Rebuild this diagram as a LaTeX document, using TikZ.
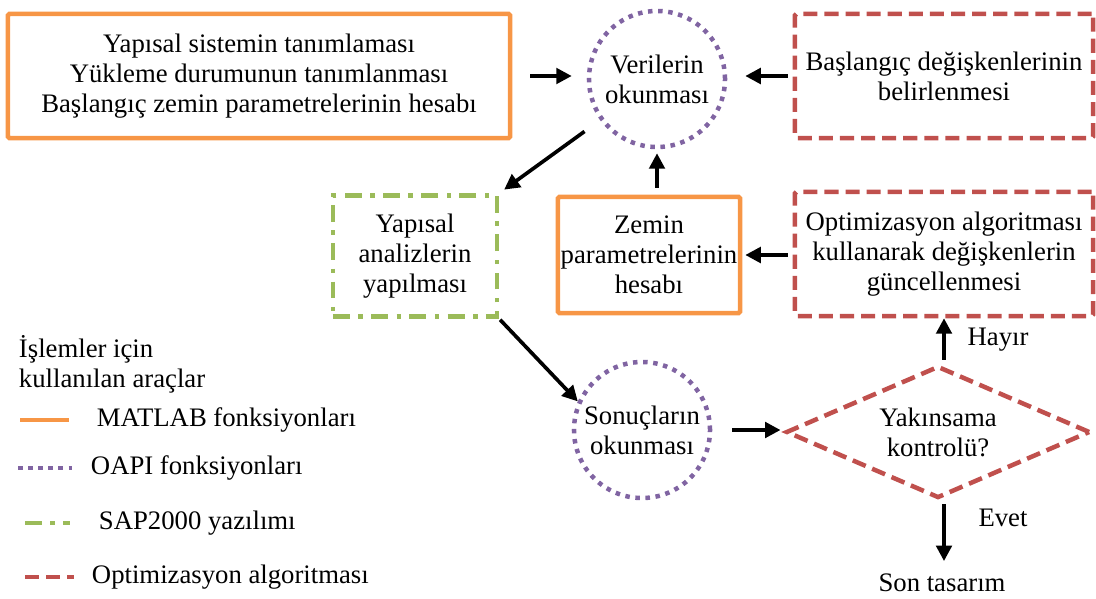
\documentclass[tikz,border=0pt]{standalone}
\usepackage{fontspec}
\setmainfont{Liberation Serif}
\usetikzlibrary{arrows.meta,shapes.geometric}

\definecolor{matlabclr}{HTML}{F79646}
\definecolor{oapiclr}{HTML}{8064A2}
\definecolor{sapclr}{HTML}{9BBB59}
\definecolor{optclr}{HTML}{C0504D}

\begin{document}
\begin{tikzpicture}[x=0.025cm, y=-0.025cm,
    font=\fontsize{19}{21.4}\selectfont,
    matline/.style={draw=matlabclr, line width=3.2pt},
    oapiline/.style={draw=oapiclr, line width=3.2pt, dash pattern=on 3.2pt off 4pt},
    sapline/.style={draw=sapclr, line width=3.2pt, dash pattern=on 12pt off 6pt on 3.2pt off 6pt},
    optline/.style={draw=optclr, line width=3.2pt, dash pattern=on 10pt off 5pt},
    matbox/.style={matline, rounded corners=1pt, align=center, inner sep=0pt},
    sapbox/.style={sapline, align=center, inner sep=0pt},
    optbox/.style={optline, rounded corners=1pt, align=center, inner sep=0pt},
    oapicirc/.style={oapiline, circle, minimum size=3.4cm, inner sep=0pt, align=center},
    flow/.style={-{Triangle[length=11pt,width=11pt]}, line width=2.6pt},
]
    \useasboundingbox (0,0) rectangle (1096,598);

    % main flow
    \node[matbox, minimum width=12.55cm, minimum height=3.1cm] (init) at (259,76)
        {Yapısal sistemin tanımlaması\\Yükleme durumunun tanımlanması\\Başlangıç zemin parametrelerinin hesabı};
    \node[oapicirc] (read) at (657,79) {Verilerin\\okunması};
    \node[optbox, minimum width=7.45cm, minimum height=3.1cm] (vars) at (944,76)
        {Başlangıç değişkenlerinin\\belirlenmesi};
    \node[sapbox, minimum width=4.1cm, minimum height=3.03cm] (anal) at (415,256)
        {Yapısal\\analizlerin\\yapılması};
    \node[matbox, minimum width=4.55cm, minimum height=2.9cm] (soil) at (649,255)
        {Zemin\\parametrelerinin\\hesabı};
    \node[optbox, minimum width=7.45cm, minimum height=3.1cm] (upd) at (944,254)
        {Optimizasyon algoritması\\kullanarak değişkenlerin\\güncellenmesi};
    \node[oapicirc] (res) at (642,430) {Sonuçların\\okunması};
    \node[optline, diamond, aspect=2.3, inner sep=0pt, align=center,
          minimum width=7.6cm, minimum height=3.3cm] (conv) at (938,432) {Yakınsama\\kontrolü?};
    \node (final) at (942,583) {Son tasarım};
    \node (no) at (998,340) {Hayır};
    \node (yes) at (1003,518) {Evet};

    \draw[flow, shorten <=0.45cm, shorten >=0.375cm] (init.east) -- (init.east -| read.west);
    \draw[flow, shorten <=0.125cm, shorten >=0.45cm] (vars.west) -- (vars.west -| read.east);
    \draw[flow, shorten <=0.48cm, shorten >=0.15cm] (read) -- (anal.north east);
    \draw[flow, shorten <=0.18cm, shorten >=0.1cm] (read.south |- soil.north) -- (read.south);
    \draw[flow, shorten <=0.125cm, shorten >=0.075cm] (upd.west |- soil.east) -- (soil.east);
    \draw[flow, shorten <=0.03cm] (anal.south east) -- (res.156);
    \draw[flow, shorten <=0.5cm, shorten >=0.08cm] (res.east) -- (res.east -| conv.west);
    \draw[flow, shorten <=0.1cm] (upd.south |- conv.north) -- (upd.south);
    \draw[flow, shorten <=0.1cm, shorten >=0.2cm] (upd.south |- conv.south) -- (upd.south |- final.north);

    % tools legend
    \node[anchor=west, align=left] (legtitle) at (14,364) {İşlemler için\\kullanılan araçlar};
    \draw[matline] (20,420) -- (69,420);
    \node[anchor=west] (legmat) at (92,420) {MATLAB fonksiyonları};
    \draw[oapiline] (18,468) -- (72,468);
    \node[anchor=west] (legoapi) at (86,468) {OAPI fonksiyonları};
    \draw[sapline] (25,523) -- (70,523);
    \node[anchor=west] (legsap) at (94,523) {SAP2000 yazılımı};
    \draw[optline] (25,577) -- (74,577);
    \node[anchor=west] (legopt) at (87,577) {Optimizasyon algoritması};
\end{tikzpicture}
\end{document}
